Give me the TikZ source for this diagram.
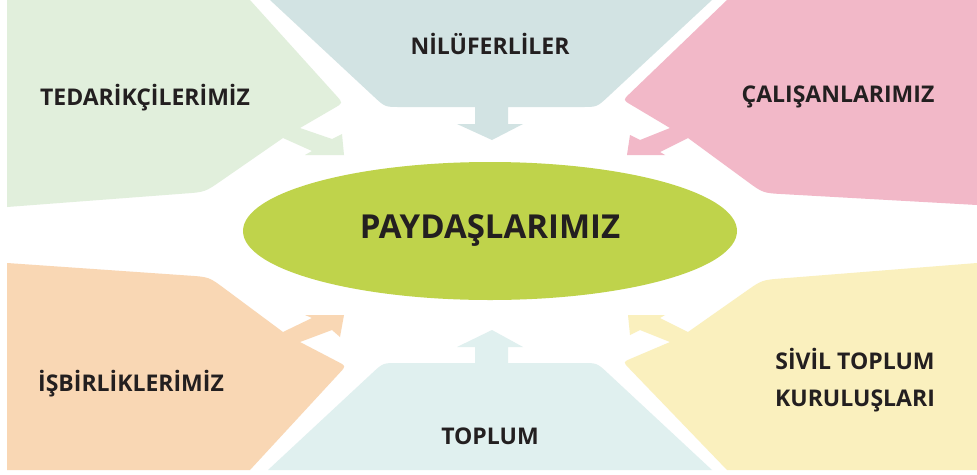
\documentclass[tikz,border=0pt]{standalone}
\usepackage{fontspec}
\setmainfont{Open Sans}
\usetikzlibrary{calc,shapes.geometric}
\definecolor{cTL}{HTML}{E1EFDC}
\definecolor{cTC}{HTML}{D2E3E3}
\definecolor{cTR}{HTML}{F2B8C8}
\definecolor{cBL}{HTML}{F9D7B4}
\definecolor{cBC}{HTML}{E0F0EF}
\definecolor{cBR}{HTML}{FAF0BE}
\definecolor{cEl}{HTML}{BFD34B}
\definecolor{txt}{HTML}{231F20}
\begin{document}
\begin{tikzpicture}[x=1pt,y=-1pt,
  lbl/.style={font=\bfseries\fontsize{23}{37}\selectfont, text=txt, align=center, inner sep=0pt}]
\useasboundingbox (0,0) rectangle (977,474);
\fill[white] (0,0) rectangle (977,474);

% top left
\fill[cTL] (7,0) -- (250,0) -- ($(343,103)!10pt!(250,0)$) .. controls (343,103) .. ($(343,103)!10pt!(300,128)$)
  -- (300,128) -- (332,139) -- (342,134) -- (344,155) -- (305,155) -- (312,151) -- (283,138)
  -- ($(205,192)!20pt!(283,138)$) .. controls (205,192) .. ($(205,192)!20pt!(7,207)$) -- (7,207) -- cycle;

% top centre
\fill[cTC] (270,0) -- (712,0) -- ($(597,107)!15pt!(712,0)$) .. controls (597,107) .. ($(597,107)!15pt!(508,107)$)
  -- (508,107) -- (508,124) -- (523,124) -- (492,140) -- (457,124) -- (475,124) -- (475,107)
  -- ($(385,107)!15pt!(475,107)$) .. controls (385,107) .. ($(385,107)!15pt!(270,0)$) -- cycle;

% top right
\fill[cTR] (727,0) -- (977,0) -- (977,205) -- ($(763,193)!20pt!(977,205)$) .. controls (763,193) .. ($(763,193)!20pt!(688,138)$)
  -- (688,138) -- (660,152) -- (665,155) -- (627,155) -- (630,135) -- (640,140) -- (670,128)
  -- ($(623,100)!9pt!(670,128)$) .. controls (623,100) .. ($(623,100)!9pt!(727,0)$) -- cycle;

% bottom left
\fill[cBL] (7,263) -- ($(209,277)!20pt!(7,263)$) .. controls (209,277) .. ($(209,277)!20pt!(283,332)$)
  -- (283,332) -- (312,318) -- (305,315) -- (344,315) -- (340,337) -- (332,330) -- (300,342)
  -- ($(346,366)!9pt!(300,342)$) .. controls (346,366) .. ($(346,366)!9pt!(250,470)$) -- (250,470) -- (7,470) -- cycle;

% bottom centre
\fill[cBC] (268,470) -- ($(383,363)!15pt!(268,470)$) .. controls (383,363) .. ($(383,363)!15pt!(475,363)$)
  -- (475,363) -- (475,347) -- (457,347) -- (492,330) -- (523,347) -- (508,347) -- (508,363)
  -- ($(597,363)!15pt!(508,363)$) .. controls (597,363) .. ($(597,363)!15pt!(712,470)$) -- (712,470) -- cycle;

% bottom right
\fill[cBR] (977,263) -- ($(762,280)!20pt!(977,263)$) .. controls (762,280) .. ($(762,280)!20pt!(688,332)$)
  -- (688,332) -- (660,318) -- (665,315) -- (628,315) -- (630,335) -- (640,330) -- (670,342)
  -- ($(623,362)!9pt!(670,342)$) .. controls (623,362) .. ($(623,362)!9pt!(727,470)$) -- (727,470) -- (977,470) -- cycle;

\node (center) [ellipse, fill=cEl, minimum width=494pt, minimum height=138pt, inner sep=0pt,
  font=\bfseries\fontsize{33}{40}\selectfont, text=txt] at (490,231) {PAYDAŞLARIMIZ};

\node[lbl] (ted) at (145,98) {TEDARİKÇİLERİMİZ};
\node[lbl] (nil) at (490,44) {NİLÜFERLİLER};
\node[lbl] (cal) at (838,97) {ÇALIŞANLARIMIZ};
\node[lbl] (isb) at (131,384) {İŞBİRLİKLERİMİZ};
\node[lbl] (top) at (490,436) {TOPLUM};
\node[lbl] (stk) at (855,380) {SİVİL TOPLUM\\KURULUŞLARI};
\end{tikzpicture}
\end{document}
